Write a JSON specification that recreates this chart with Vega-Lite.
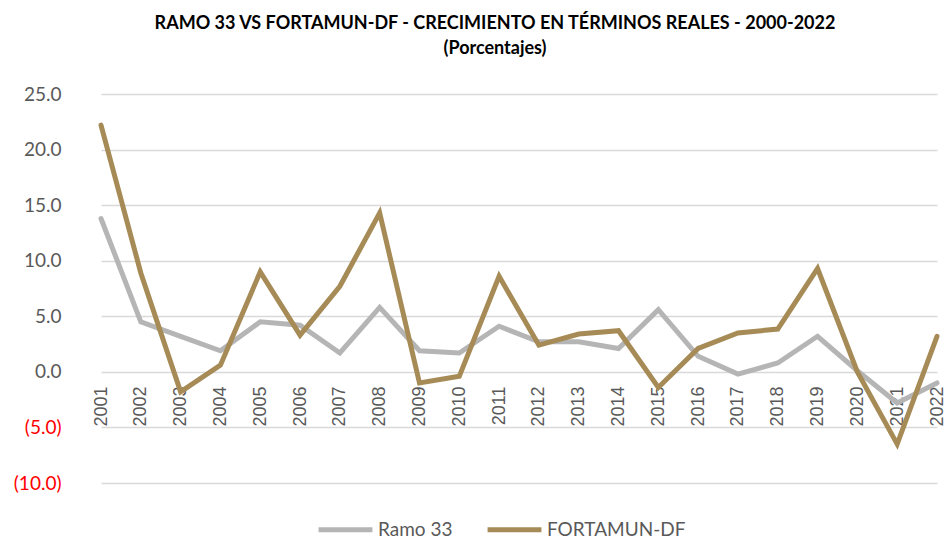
{
  "$schema": "https://vega.github.io/schema/vega-lite/v6.json",
  "width": 866,
  "height": 389,
  "autosize": {"type": "none"},
  "padding": {"left": 81, "top": 94, "right": 1, "bottom": 57},
  "background": "white",
  "title": {
    "text": ["RAMO 33 VS FORTAMUN-DF - CRECIMIENTO EN TÉRMINOS REALES - 2000-2022", "(Porcentajes)"],
    "anchor": "middle",
    "frame": "group",
    "dx": -19,
    "offset": 27,
    "font": "Lato",
    "fontSize": 18,
    "fontWeight": "bold",
    "color": "#000000",
    "lineHeight": 25
  },
  "data": {
    "values": [
      {"year": "2001", "series": "Ramo 33", "value": 13.8},
      {"year": "2002", "series": "Ramo 33", "value": 4.5},
      {"year": "2003", "series": "Ramo 33", "value": 3.2},
      {"year": "2004", "series": "Ramo 33", "value": 1.9},
      {"year": "2005", "series": "Ramo 33", "value": 4.5},
      {"year": "2006", "series": "Ramo 33", "value": 4.2},
      {"year": "2007", "series": "Ramo 33", "value": 1.7},
      {"year": "2008", "series": "Ramo 33", "value": 5.8},
      {"year": "2009", "series": "Ramo 33", "value": 1.9},
      {"year": "2010", "series": "Ramo 33", "value": 1.7},
      {"year": "2011", "series": "Ramo 33", "value": 4.1},
      {"year": "2012", "series": "Ramo 33", "value": 2.7},
      {"year": "2013", "series": "Ramo 33", "value": 2.7},
      {"year": "2014", "series": "Ramo 33", "value": 2.1},
      {"year": "2015", "series": "Ramo 33", "value": 5.6},
      {"year": "2016", "series": "Ramo 33", "value": 1.4},
      {"year": "2017", "series": "Ramo 33", "value": -0.2},
      {"year": "2018", "series": "Ramo 33", "value": 0.8},
      {"year": "2019", "series": "Ramo 33", "value": 3.2},
      {"year": "2020", "series": "Ramo 33", "value": 0.1},
      {"year": "2021", "series": "Ramo 33", "value": -2.8},
      {"year": "2022", "series": "Ramo 33", "value": -1.0},
      {"year": "2001", "series": "FORTAMUN-DF", "value": 22.2},
      {"year": "2002", "series": "FORTAMUN-DF", "value": 8.9},
      {"year": "2003", "series": "FORTAMUN-DF", "value": -1.8},
      {"year": "2004", "series": "FORTAMUN-DF", "value": 0.6},
      {"year": "2005", "series": "FORTAMUN-DF", "value": 9.0},
      {"year": "2006", "series": "FORTAMUN-DF", "value": 3.3},
      {"year": "2007", "series": "FORTAMUN-DF", "value": 7.7},
      {"year": "2008", "series": "FORTAMUN-DF", "value": 14.3},
      {"year": "2009", "series": "FORTAMUN-DF", "value": -1.0},
      {"year": "2010", "series": "FORTAMUN-DF", "value": -0.4},
      {"year": "2011", "series": "FORTAMUN-DF", "value": 8.6},
      {"year": "2012", "series": "FORTAMUN-DF", "value": 2.4},
      {"year": "2013", "series": "FORTAMUN-DF", "value": 3.4},
      {"year": "2014", "series": "FORTAMUN-DF", "value": 3.7},
      {"year": "2015", "series": "FORTAMUN-DF", "value": -1.4},
      {"year": "2016", "series": "FORTAMUN-DF", "value": 2.1},
      {"year": "2017", "series": "FORTAMUN-DF", "value": 3.5},
      {"year": "2018", "series": "FORTAMUN-DF", "value": 3.85},
      {"year": "2019", "series": "FORTAMUN-DF", "value": 9.3},
      {"year": "2020", "series": "FORTAMUN-DF", "value": 0.0},
      {"year": "2021", "series": "FORTAMUN-DF", "value": -6.5},
      {"year": "2022", "series": "FORTAMUN-DF", "value": 3.2}
    ]
  },
  "mark": {"type": "line", "strokeWidth": 5, "strokeCap": "round", "strokeJoin": "miter"},
  "encoding": {
    "x": {
      "field": "year",
      "type": "ordinal",
      "sort": null,
      "scale": {"type": "point", "range": [20, 856], "padding": 0},
      "axis": {
        "title": null,
        "orient": "bottom",
        "offset": -111,
        "domain": false,
        "ticks": false,
        "grid": false,
        "labelAngle": -90,
        "labelPadding": 14,
        "labelFont": "Liberation Sans",
        "labelFontSize": 18,
        "labelColor": "#595959"
      }
    },
    "y": {
      "field": "value",
      "type": "quantitative",
      "scale": {"domain": [-10, 25], "nice": false, "zero": false},
      "axis": {
        "title": null,
        "values": [-10, -5, 0, 5, 10, 15, 20, 25],
        "domain": false,
        "ticks": false,
        "grid": true,
        "gridColor": "#D9D9D9",
        "gridWidth": 1.3,
        "labelPadding": 20,
        "labelFont": "Lato",
        "labelFontSize": 19,
        "labelColor": {"condition": {"test": "datum.value < 0", "value": "#FF0000"}, "value": "#595959"},
        "labelExpr": "datum.value < 0 ? '(' + format(-datum.value, '.1f') + ')' : format(datum.value, '.1f')"
      }
    },
    "color": {
      "field": "series",
      "type": "nominal",
      "scale": {"domain": ["Ramo 33", "FORTAMUN-DF"], "range": ["#B5B5B5", "#A68B57"]},
      "legend": {
        "title": null,
        "orient": "none",
        "direction": "horizontal",
        "legendX": 235,
        "legendY": 406,
        "symbolType": "stroke",
        "symbolStrokeWidth": 5,
        "symbolSize": 2900,
        "labelFont": "Lato",
        "labelFontSize": 19,
        "labelColor": "#595959",
        "labelOffset": 3,
        "columnPadding": 24
      }
    },
    "order": {"value": 0}
  },
  "config": {"view": {"stroke": null}}
}
